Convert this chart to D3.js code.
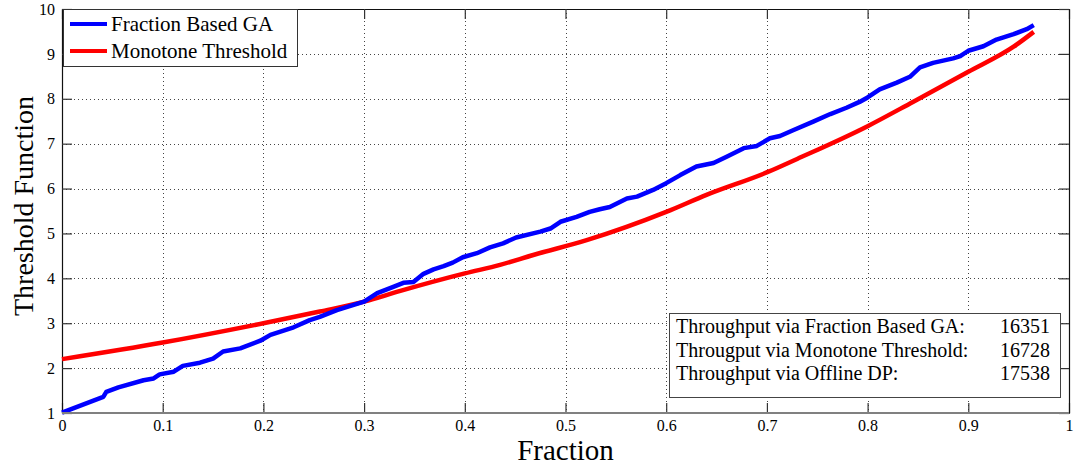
<!doctype html>
<html>
<head>
<style>
  body { margin: 0; background: #fff; }
  text { font-family: "Liberation Serif", "Times New Roman", serif; fill: #000; }
</style>
<script src="https://d3js.org/d3.v7.min.js"></script>
</head>
<body>
<svg width="1078" height="466"></svg>
<script>
// series
var seriesNames = ["Fraction Based GA", "Monotone Threshold"];

var gaFrac = [0, 0.041, 0.044, 0.056, 0.081, 0.091, 0.097, 0.111, 0.120, 0.137, 0.150, 0.160, 0.177, 0.197,
  0.207, 0.230, 0.246, 0.256, 0.273, 0.300, 0.313, 0.329, 0.339, 0.349, 0.359, 0.369, 0.379, 0.388,
  0.398, 0.412, 0.425, 0.438, 0.451, 0.475, 0.485, 0.495, 0.511, 0.524, 0.534, 0.544, 0.561, 0.571,
  0.587, 0.600, 0.614, 0.630, 0.647, 0.660, 0.677, 0.690, 0.703, 0.713, 0.726, 0.746, 0.763, 0.779,
  0.792, 0.800, 0.812, 0.829, 0.842, 0.852, 0.865, 0.885, 0.892, 0.900, 0.915, 0.928, 0.945, 0.958, 0.965];
var gaValue = [1.01, 1.36, 1.47, 1.57, 1.73, 1.77, 1.86, 1.92, 2.05, 2.12, 2.21, 2.37, 2.44, 2.61,
  2.74, 2.91, 3.07, 3.14, 3.29, 3.48, 3.67, 3.81, 3.90, 3.92, 4.10, 4.20, 4.27, 4.35,
  4.47, 4.56, 4.69, 4.78, 4.91, 5.04, 5.11, 5.26, 5.37, 5.48, 5.54, 5.59, 5.78, 5.82,
  5.97, 6.12, 6.30, 6.49, 6.57, 6.71, 6.90, 6.95, 7.12, 7.17, 7.30, 7.49, 7.66, 7.80,
  7.93, 8.03, 8.21, 8.36, 8.49, 8.70, 8.80, 8.90, 8.95, 9.07, 9.17, 9.32, 9.44, 9.55, 9.64];

var mtFrac = [0, 0.1, 0.2, 0.256, 0.3, 0.336, 0.4, 0.435, 0.468, 0.521, 0.6, 0.64, 0.701, 0.73, 0.8, 0.845, 0.9, 0.945, 0.965];
var mtValue = [2.20, 2.57, 3.00, 3.26, 3.48, 3.72, 4.11, 4.30, 4.52, 4.85, 5.48, 5.86, 6.37, 6.66, 7.39, 7.93, 8.60, 9.16, 9.49];

var xTicks = [0, 0.1, 0.2, 0.3, 0.4, 0.5, 0.6, 0.7, 0.8, 0.9, 1];
var yTicks = [1, 2, 3, 4, 5, 6, 7, 8, 9, 10];

var infoLabels = ["Throughput via Fraction Based GA:", "Througput via Monotone Threshold:", "Throughput via Offline DP:"];
var infoValues = [16351, 16728, 17538];

var svg = d3.select("svg");
var plotLeft = 62, plotRight = 1069, plotTop = 9, plotBottom = 413;

var x = d3.scaleLinear().domain([0, 1]).range([plotLeft, plotRight]);
var y = d3.scaleLinear().domain([1, 10]).range([plotBottom, plotTop]);

// grid
var grid = svg.append("g").attr("stroke", "#444").attr("stroke-width", 1).attr("stroke-dasharray", "1,3");
grid.selectAll(".gx").data(xTicks.slice(1, -1)).enter().append("line")
    .attr("x1", function(d) { return Math.round(x(d)) + 0.5; })
    .attr("x2", function(d) { return Math.round(x(d)) + 0.5; })
    .attr("y1", plotTop).attr("y2", plotBottom);
grid.selectAll(".gy").data(yTicks.slice(1, -1)).enter().append("line")
    .attr("y1", function(d) { return Math.round(y(d)) + 0.5; })
    .attr("y2", function(d) { return Math.round(y(d)) + 0.5; })
    .attr("x1", plotLeft).attr("x2", plotRight);

// axes with inward ticks on all four sides
svg.append("g").attr("transform", "translate(0," + plotBottom + ")")
   .call(d3.axisBottom(x).tickValues(xTicks).tickSizeInner(-10).tickSizeOuter(0).tickPadding(7)
         .tickFormat(function(d) { return d; }));
svg.append("g").attr("transform", "translate(0," + plotTop + ")")
   .call(d3.axisTop(x).tickValues(xTicks).tickSizeInner(-10).tickSizeOuter(0).tickFormat(""));
svg.append("g").attr("transform", "translate(" + plotLeft + ",0)")
   .call(d3.axisLeft(y).tickValues(yTicks).tickSizeInner(-10).tickSizeOuter(0).tickPadding(7));
svg.append("g").attr("transform", "translate(" + plotRight + ",0)")
   .call(d3.axisRight(y).tickValues(yTicks).tickSizeInner(-10).tickSizeOuter(0).tickFormat(""));

svg.selectAll(".tick line").attr("stroke", "#333").attr("stroke-width", 1.2);
svg.selectAll(".domain").attr("stroke", "#111").attr("stroke-width", 1.2);
svg.selectAll(".tick text").attr("font-family", "Liberation Serif").attr("font-size", 16).attr("fill", "#000");

// lines
var line = d3.line().x(function(d) { return x(d[0]); }).y(function(d) { return y(d[1]); });

svg.append("path")
   .datum(mtFrac.map(function(f, i) { return [f, mtValue[i]]; }))
   .attr("fill", "none").attr("stroke", "#ff0000").attr("stroke-width", 4.5)
   .attr("d", line.curve(d3.curveMonotoneX));

svg.append("path")
   .datum(gaFrac.map(function(f, i) { return [f, gaValue[i]]; }))
   .attr("fill", "none").attr("stroke", "#0000ff").attr("stroke-width", 4.5)
   .attr("stroke-linejoin", "round")
   .attr("d", line.curve(d3.curveLinear));

// bottom axis line looks heavier and grey
svg.append("line").attr("x1", plotLeft).attr("x2", plotRight).attr("y1", plotBottom).attr("y2", plotBottom)
   .attr("stroke", "#808080").attr("stroke-width", 2);

// axis labels
svg.append("text")
   .attr("x", (plotLeft + plotRight) / 2).attr("y", 460)
   .attr("text-anchor", "middle").attr("font-size", 29)
   .text("Fraction");

svg.append("text")
   .attr("transform", "translate(33,206) rotate(-90)")
   .attr("text-anchor", "middle").attr("font-size", 28)
   .text("Threshold Function");

// legend
var legend = svg.append("g");
legend.append("rect").attr("x", 63.5).attr("y", 9.5).attr("width", 234).attr("height", 57)
      .attr("fill", "#fff").attr("stroke", "#333");
var legendColors = ["#0000ff", "#ff0000"];
seriesNames.forEach(function(name, i) {
    var yy = 24 + i * 27;
    legend.append("line").attr("x1", 70).attr("x2", 107).attr("y1", yy).attr("y2", yy)
          .attr("stroke", legendColors[i]).attr("stroke-width", 4);
    legend.append("text").attr("x", 111).attr("y", yy + 7).attr("font-size", 21).text(name);
});

// throughput box
var info = svg.append("g");
info.append("rect").attr("x", 669.5).attr("y", 313.5).attr("width", 391).attr("height", 84)
    .attr("fill", "#fff").attr("stroke", "#444");
infoLabels.forEach(function(label, i) {
    var yy = 333 + i * 23.5;
    info.append("text").attr("x", 676).attr("y", yy).attr("font-size", 20).text(label);
    info.append("text").attr("x", 1050).attr("y", yy).attr("text-anchor", "end")
        .attr("font-size", 20).text(infoValues[i]);
});
</script>
</body>
</html>
